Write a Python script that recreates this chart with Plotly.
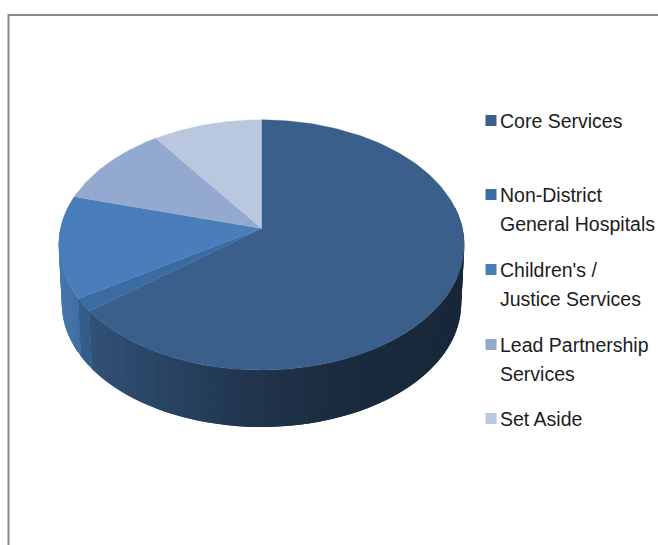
import math
import plotly.graph_objects as go

# Budget shares, clockwise from twelve o'clock
categories = ["Core Services", "Non-District General Hospitals", "Children's / Justice Services",
              "Lead Partnership Services", "Set Aside"]
shares = [64.4, 1.7, 13.2, 10.8, 9.9]
legend_lines = [["Core Services"], ["Non-District", "General Hospitals"],
                ["Children's /", "Justice Services"], ["Lead Partnership", "Services"], ["Set Aside"]]

# Styling and view settings
TOP_COLOURS = ["#3a5f8a", "#3b6ba3", "#4a7ebb", "#93a9cf", "#b9c7df"]
APEX_X, APEX_Y = 261.5, 228.5
SCALE_X, SCALE_Y, PERSPECTIVE = 201.0, 123.0, 0.1315
DEPTH, BASE_SCALE = 59.0, 0.985
SHADE_STOPS = [(60, 0.92), (92, 0.85), (150, 0.74), (250, 0.56), (330, 0.46), (465, 0.41)]
LEGEND_CENTRES = [120.5, 194.5, 269.5, 344.5, 418.5]
LINE_STEP = 28.5


def project(angle_deg, scale=1.0, drop=0.0):
    """Project a rim angle (degrees clockwise from the far side) onto the canvas."""
    a = math.radians(angle_deg)
    u, v = math.sin(a), math.cos(a)
    w = 1 + PERSPECTIVE * v
    return APEX_X + scale * SCALE_X * u / w, APEX_Y - SCALE_Y * v / w * scale + drop


def shade(x):
    for (x0, f0), (x1, f1) in zip(SHADE_STOPS, SHADE_STOPS[1:]):
        if x <= x1:
            return f0 + (f1 - f0) * max(0, x - x0) / (x1 - x0)
    return SHADE_STOPS[-1][1]


def darken(colour, factor):
    r, g, b = (int(colour[i:i + 2], 16) for i in (1, 3, 5))
    return f"rgb({r * factor:.0f},{g * factor:.0f},{b * factor:.0f})"


def polygon(xs, ys, colour, width=0.0):
    return go.Scatter(x=xs, y=ys, mode="lines", fill="toself", fillcolor=colour,
                      line=dict(color=colour, width=width), hoverinfo="skip", showlegend=False)


def sweep(start, end, step):
    n = max(2, int(math.ceil((end - start) / step)) + 1)
    return [start + (end - start) * i / (n - 1) for i in range(n)]


total = sum(shares)
edges = [0.0]
for s in shares:
    edges.append(edges[-1] + 360.0 * s / total)

fig = go.Figure()

# Curved wall: strips along the front rim, each shaded by position and painted
# over the start of the next one so no gaps open between them
for colour, start, end in zip(TOP_COLOURS, edges, edges[1:]):
    lo, hi = max(start, 80.0), min(end, 288.0)
    if hi <= lo:
        continue
    angles = sweep(lo, hi, 2.0)
    for i in range(len(angles) - 1):
        arc = angles[i:i + 3]
        pts = [project(a) for a in arc] + [project(a, BASE_SCALE, DEPTH) for a in reversed(arc)]
        xs = [p[0] for p in pts] + [pts[0][0]]
        ys = [p[1] for p in pts] + [pts[0][1]]
        mid = (project(angles[i])[0] + project(angles[i + 1])[0]) / 2
        fig.add_trace(polygon(xs, ys, darken(colour, shade(mid))))

# Seam between neighbouring wall sections
for edge in edges[1:3]:
    x0, y0 = project(edge)
    x1, y1 = project(edge, BASE_SCALE, DEPTH)
    fig.add_trace(go.Scatter(x=[x0, x1], y=[y0, y1], mode="lines", hoverinfo="skip", showlegend=False,
                             line=dict(color="rgba(40,70,110,0.4)", width=1)))

# Top face of each slice
for colour, start, end in zip(TOP_COLOURS, edges, edges[1:]):
    rim = [project(a) for a in sweep(start, end, 1.0)]
    xs = [APEX_X] + [p[0] for p in rim] + [APEX_X]
    ys = [APEX_Y] + [p[1] for p in rim] + [APEX_Y]
    fig.add_trace(polygon(xs, ys, colour, width=0.3))

# Legend keys and labels
fig.add_trace(go.Scatter(x=[491] * len(categories), y=LEGEND_CENTRES, mode="markers",
                         marker=dict(symbol="square", size=11, color=TOP_COLOURS, line=dict(width=0)),
                         hoverinfo="skip", showlegend=False))
annotations = []
for centre, lines in zip(LEGEND_CENTRES, legend_lines):
    for i, line in enumerate(lines):
        annotations.append(dict(x=498, y=centre + 0.5 + i * LINE_STEP, text=line, showarrow=False,
                                xanchor="left", yanchor="middle", xref="x", yref="y",
                                font=dict(family="Liberation Sans", size=19.5, color="#1c1c1c")))

# Chart area outline runs off the right and bottom of the page
frame = dict(type="rect", xref="x", yref="y", x0=8.5, y0=15, x1=680, y1=570,
             line=dict(color="#8c8c8c", width=2), layer="below")

fig.update_layout(
    width=658, height=545, margin=dict(l=0, r=0, t=0, b=0),
    paper_bgcolor="white", plot_bgcolor="white", showlegend=False,
    xaxis=dict(range=[0, 658], visible=False, fixedrange=True),
    yaxis=dict(range=[545, 0], visible=False, fixedrange=True),
    annotations=annotations, shapes=[frame],
)
fig.write_html("out.html", config=dict(displayModeBar=False))
